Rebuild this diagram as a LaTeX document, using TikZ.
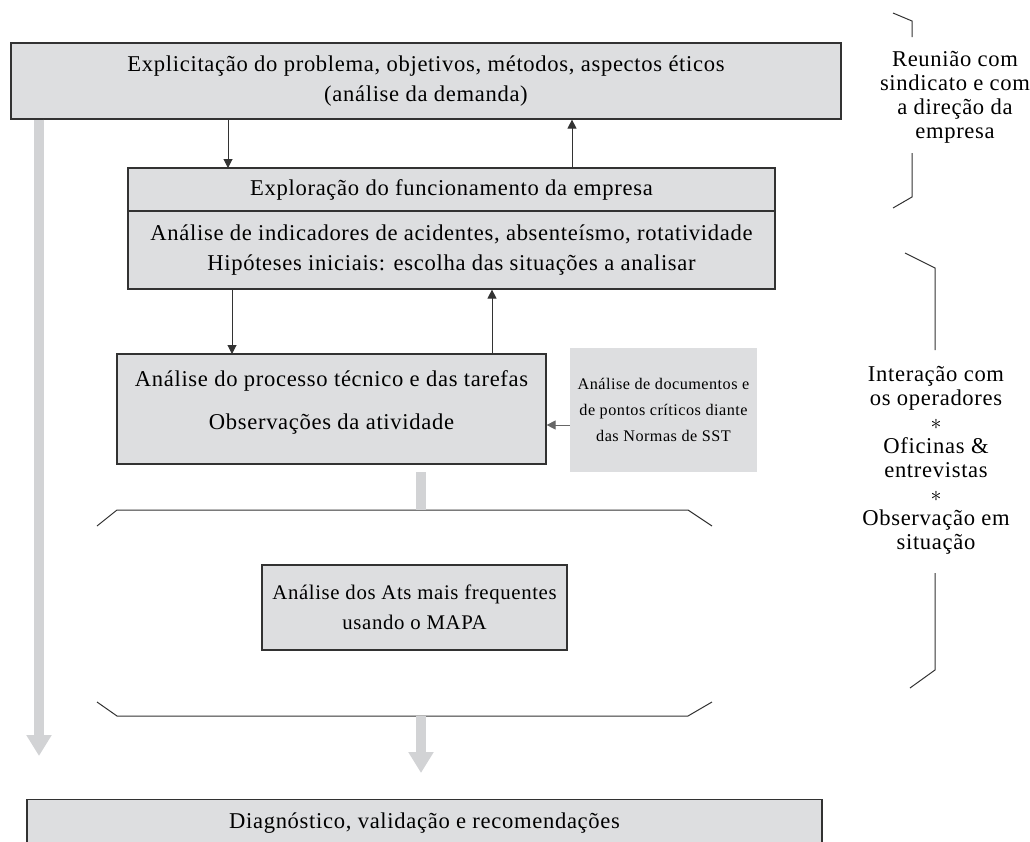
\documentclass[tikz,border=0pt]{standalone}
\usepackage{fontspec}
\setmainfont{Liberation Serif}[LetterSpace=3.0]
\usetikzlibrary{arrows.meta}
\definecolor{boxgray}{RGB}{221,222,224}
\definecolor{bargray}{RGB}{210,211,213}
\definecolor{edgegray}{RGB}{50,50,50}
\tikzset{
  box/.style = {draw = edgegray, fill = boxgray, line width = 0.6pt, inner sep = 0pt, align = center},
  plainbox/.style = {fill = boxgray, inner sep = 0pt, align = center},
  arr/.style = {draw = black!80, line width = 0.5pt, -{Triangle[length = 4.5pt, width = 4.5pt]}},
  bigarr/.style = {draw = bargray, line width = 5pt, -{Triangle[length = 10.5pt, width = 12pt]}},
  bar/.style = {draw = bargray, line width = 5pt},
  brace/.style = {draw = edgegray, line width = 0.5pt},
  side/.style = {align = center, inner sep = 0pt},
}
\begin{document}
\begin{tikzpicture}[x = 0.5pt, y = -0.5pt, font = \fontsize{11.3}{12}\selectfont]
\useasboundingbox (0, 0) rectangle (1030, 842);
\clip (0, 0) rectangle (1030, 842);
% boxes
\node [box, minimum width = 415pt, minimum height = 38pt] (demanda) at (426, 81) {Explicitação do problema, objetivos, métodos, aspectos éticos\\[3pt](análise da demanda)};
\node [box, minimum width = 323.5pt, minimum height = 21.5pt] (explo) at (451.5, 189.5) {Exploração do funcionamento da empresa};
\node [box, minimum width = 323.5pt, minimum height = 39pt] (indic) at (451.5, 250) {Análise de indicadores de acidentes, absenteísmo, rotatividade\\[3pt]Hipóteses iniciais: escolha das situações a analisar};
\node [box, minimum width = 214.5pt, minimum height = 55pt] (proc) at (331.5, 409) {};
\node [side] (proctxt) at (331.5, 402) {Análise do processo técnico e das tarefas\\[9.5pt]Observações da atividade};
\node [plainbox, minimum width = 93.5pt, minimum height = 62pt, font = \fontsize{8.1}{13}\selectfont] (docs) at (663.5, 410) {Análise de documentos e\\de pontos críticos diante\\das Normas de SST};
\node [box, minimum width = 152.5pt, minimum height = 42.5pt, font = \fontsize{10.4}{12}\selectfont] (mapa) at (414.5, 607.5) {Análise dos Ats mais frequentes\\[3pt]usando o MAPA};
\node [box, anchor = north, minimum width = 397.5pt, minimum height = 23pt] (diag) at (424.5, 799) {Diagnóstico, validação e recomendações};
% open frame round the MAPA box
\coordinate (hexTL) at (117, 510);
\coordinate (hexTR) at (688, 510);
\coordinate (hexBL) at (117, 716);
\coordinate (hexBR) at (688, 716);
\draw [brace] (97, 526) -- (hexTL) -- (hexTR) -- (712, 526);
\draw [brace] (97, 702) -- (hexBL) -- (hexBR) -- (712, 702);
% thin arrows
\coordinate (a1) at (228, 168);
\coordinate (a2) at (572, 168);
\coordinate (a3) at (232, 354);
\coordinate (a4) at (492, 353);
\coordinate (a5) at (570, 425);
\draw [arr] (a1 |- demanda.south) -- (a1);
\draw [arr] (a2) -- (a2 |- demanda.south);
\draw [arr] (a3 |- indic.south) -- (a3);
\draw [arr] (a4) -- (a4 |- indic.south);
\draw [arr, draw = black!60] (a5 -| docs.west) -- (a5 -| proc.east);
% gray arrows
\coordinate (g1) at (39, 756);
\coordinate (g2) at (421, 472);
\coordinate (g3) at (421, 773);
\draw [bigarr] (g1 |- demanda.south) -- (g1);
\draw [bar] (g2) -- (g2 |- hexTL);
\draw [bigarr] (g3 |- hexBL) -- (g3);
% right side
\node [side] (reuniao) at (955, 97.5) {Reunião com\\sindicato e com\\a direção da\\empresa};
\draw [brace] (893, 13) -- (912, 21) -- (912, 37);
\draw [brace] (912, 153) -- (912, 197) -- (893, 208);
\node [side] (interacao) at (936, 460) {Interação com\\os operadores\\$\ast$\\Oficinas \&\\entrevistas\\$\ast$\\Observação em\\situação};
\draw [brace] (905, 253) -- (935, 268) -- (935, 350);
\draw [brace] (935, 573) -- (935, 670) -- (910, 688);
\end{tikzpicture}
\end{document}
